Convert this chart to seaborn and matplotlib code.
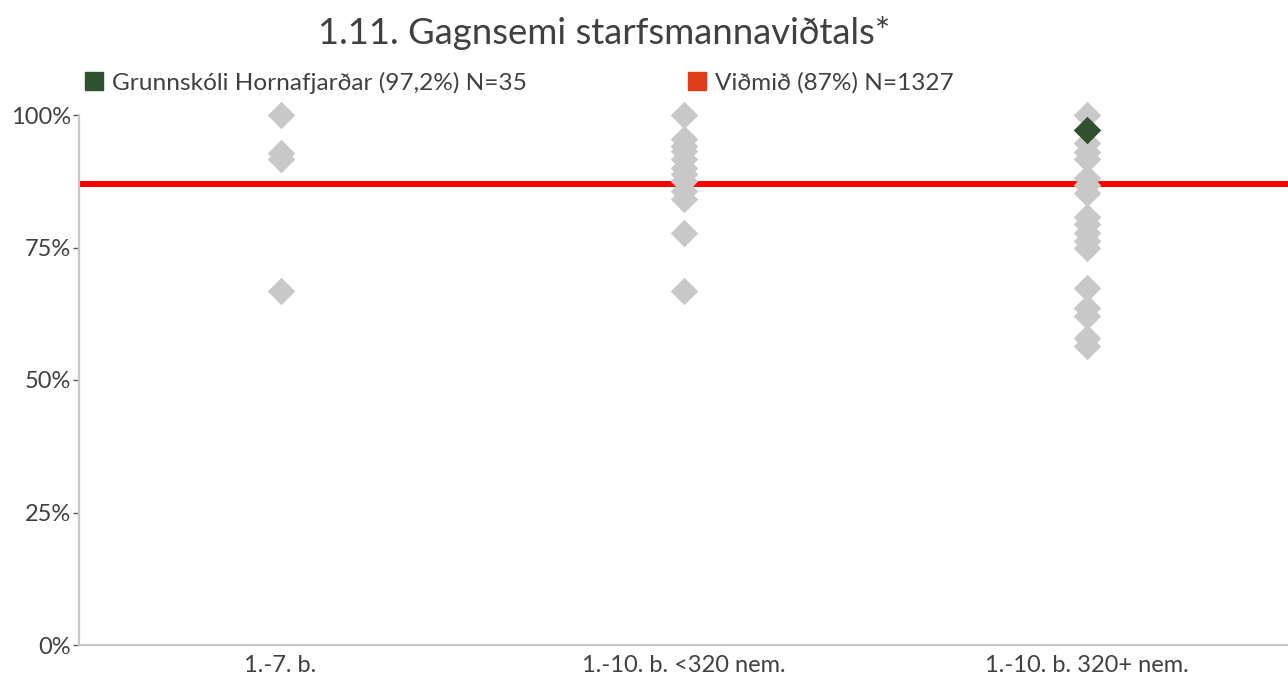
import numpy as np
import pandas as pd
import seaborn as sns
import matplotlib.pyplot as plt
from matplotlib.lines import Line2D

sns.set_style("white")
plt.rcParams["font.family"] = ["Lato", "DejaVu Sans"]

categories = ["1.-7. b.", "1.-10. b. <320 nem.", "1.-10. b. 320+ nem."]
vals_1_7 = [100, 92.9, 91.7, 66.7]
vals_small = [100, 95.5, 94.1, 93.3, 91.7, 90.0, 88.9, 87.5, 85.7, 84.2, 77.8, 66.7]
vals_large = [100, 94.7, 93.0, 91.7, 88.2, 86.7, 85.3, 80.8, 79.5, 77.8, 76.2,
              75.0, 67.4, 63.6, 62.1, 58.0, 56.5]
school_cat = "1.-10. b. 320+ nem."
school_val = 97.2
benchmark = 87
yticks = [0, 25, 50, 75, 100]
title = "1.11. Gagnsemi starfsmannaviðtals*"
legend_school = "Grunnskóli Hornafjarðar (97,2%) N=35"
legend_bench = "Viðmið (87%) N=1327"

text_col = "#404040"
grey = "#c8c8c8"
green = "#2f5130"
orange = "#e03c1a"

# long format for seaborn
others = pd.DataFrame({
    "group": [categories[0]] * len(vals_1_7) + [categories[1]] * len(vals_small)
             + [categories[2]] * len(vals_large),
    "value": vals_1_7 + vals_small + vals_large,
})
school = pd.DataFrame({"group": [school_cat], "value": [school_val]})

fig = plt.figure(figsize=(12.88, 6.77), dpi=100)
ax = fig.add_axes([79 / 1288, 1 - 645 / 677, 1 - 79 / 1288, (645 - 115) / 677])

ax.axhline(benchmark, color="#ff0000", lw=4.3, zorder=1)
sns.stripplot(data=others, x="group", y="value", order=categories, jitter=False,
              marker="D", size=14, color=grey, linewidth=0, ax=ax, zorder=3)
sns.stripplot(data=school, x="group", y="value", order=categories, jitter=False,
              marker="D", size=14, color=green, linewidth=0, ax=ax, zorder=4)
for coll in ax.collections:
    coll.set_clip_on(False)

ax.set_xlim(-0.5, 2.5)
ax.set_ylim(0, 100)
ax.set_yticks(yticks)
ax.set_yticklabels([f"{t}%" for t in yticks])
ax.set_xlabel("")
ax.set_ylabel("")
ax.tick_params(axis="y", length=4, width=1, color="#595959", pad=2,
               labelsize=17, labelcolor=text_col, left=True)
ax.tick_params(axis="x", length=0, pad=7, labelsize=17, labelcolor=text_col)
for side in ["top", "right"]:
    ax.spines[side].set_visible(False)
for side in ["left", "bottom"]:
    ax.spines[side].set_color(grey)
    ax.spines[side].set_linewidth(1.6)

fig.text(0.469, 1 - 33 / 677, title, ha="center", va="center",
         fontsize=26.3, color=text_col)

# two legend entries, each placed on its own
for col, lab, x0 in [(green, legend_school, 85), (orange, legend_bench, 688)]:
    h = Line2D([], [], marker="s", linestyle="", markersize=13, color=col)
    fig.legend([h], [lab], frameon=False, loc="center left",
               bbox_to_anchor=(x0 / 1288, 1 - 83 / 677), fontsize=17.6,
               labelcolor=text_col, handlelength=0.75, handletextpad=0.35,
               borderpad=0, borderaxespad=0)

fig.savefig("out.png", dpi=100)
